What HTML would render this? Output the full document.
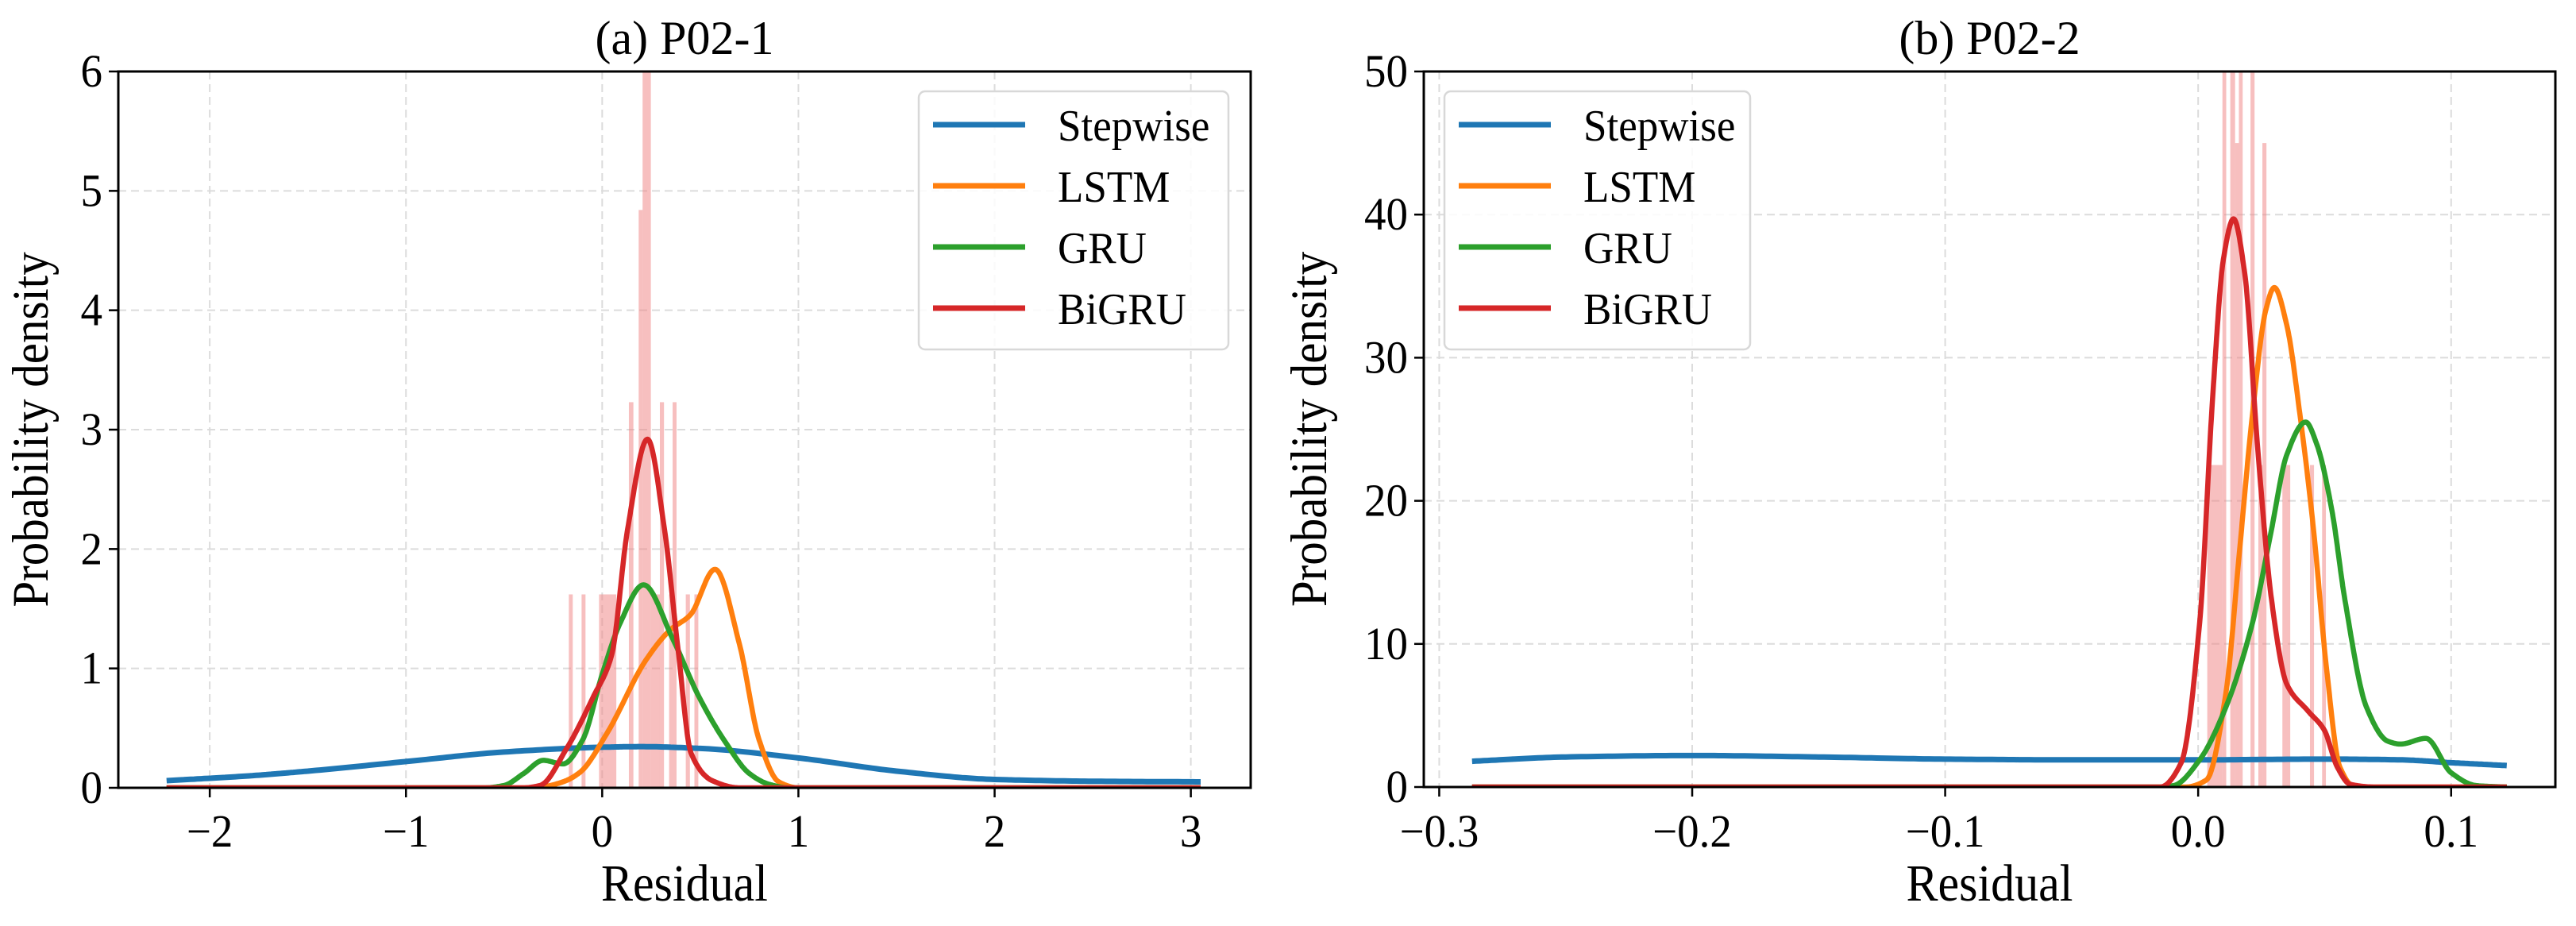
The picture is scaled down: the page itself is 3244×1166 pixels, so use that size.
<!DOCTYPE html>
<html><head><meta charset="utf-8"><style>
html,body{margin:0;padding:0;background:#fff;}
svg{display:block;font-family:"Liberation Serif",serif;}
</style></head><body>
<svg id="fig" width="3244" height="1166" viewBox="0 0 3244 1166" xmlns="http://www.w3.org/2000/svg"></svg>
<script>
// ---- Panel (a) P02-1 data ----
const aStepX=[-2.22,-1.8,-1.5,-1.0,-0.5,0,0.2,0.5,1.0,1.5,2.0,2.5,3.05];
const aStepY=[0.06,0.10,0.14,0.22,0.30,0.34,0.345,0.33,0.25,0.14,0.07,0.055,0.05];
const aLstmX=[-2.22,-0.4,-0.3,-0.2,-0.113,0.022,0.223,0.345,0.45,0.575,0.7,0.8,0.9,1.0,3.05];
const aLstmY=[0,0,0.01,0.05,0.13,0.45,1.07,1.32,1.45,1.83,1.2,0.4,0.05,0,0];
const aGruX=[-2.22,-0.6,-0.5,-0.4,-0.3,-0.2,-0.1,0,0.089,0.211,0.359,0.494,0.629,0.75,0.85,0.95,3.05];
const aGruY=[0,0,0.02,0.12,0.23,0.2,0.4,0.95,1.37,1.70,1.25,0.76,0.38,0.12,0.03,0,0];
const aBiX=[-2.22,-0.4,-0.316,-0.181,-0.046,0.048,0.129,0.231,0.318,0.386,0.453,0.561,0.7,3.05];
const aBiY=[0,0,0.02,0.33,0.76,1.11,2.16,2.92,2.16,1.17,0.29,0.06,0,0];
const aBinLo=[-0.170,-0.105,-0.016,0.136,0.186,0.206,0.248,0.294,0.341,0.359,0.426,0.470];
const aBinHi=[-0.150,-0.085,0.072,0.159,0.206,0.248,0.294,0.315,0.359,0.379,0.447,0.490];
const aBinH=[1.62,1.62,1.62,3.23,4.84,6.5,1.62,3.23,1.62,3.23,1.62,1.62];
const aXTicks=[-2,-1,0,1,2,3];
const aXTickLabels=["\u22122","\u22121","0","1","2","3"];
const aYTicks=[0,1,2,3,4,5,6];
const aYTickLabels=["0","1","2","3","4","5","6"];
// ---- Panel (b) P02-2 data ----
const bStepX=[-0.287,-0.25,-0.2,-0.15,-0.1,-0.05,0,0.05,0.08,0.1,0.122];
const bStepY=[1.8,2.1,2.2,2.1,1.95,1.9,1.9,1.95,1.9,1.7,1.5];
const bLstmX=[-0.287,-0.005,0.0033,0.011,0.0163,0.0215,0.0267,0.0301,0.035,0.0404,0.0456,0.0508,0.056,0.062,0.122];
const bLstmY=[0,0,0.5,6.6,16.4,26.1,33.3,34.9,32.3,25.8,18.0,8.2,1.4,0,0];
const bGruX=[-0.287,-0.015,-0.0097,0.0006,0.011,0.0215,0.029,0.035,0.0425,0.047,0.0529,0.058,0.0665,0.075,0.08,0.09,0.1,0.11,0.122];
const bGruY=[0,0,0.1,1.9,5.6,11.5,18.0,23.2,25.5,23.9,19.3,13.1,5.6,3.2,3.0,3.4,1.0,0.1,0];
const bBiX=[-0.287,-0.015,-0.0067,0.0006,0.0059,0.010,0.014,0.0184,0.0236,0.029,0.035,0.0435,0.0498,0.055,0.060,0.07,0.122];
const bBiY=[0,0,1.7,11.5,27.7,36.9,39.7,35.9,23.5,13.1,7.2,5.3,4.0,1.4,0.2,0,0];
const bBinLo=[0.0036,0.0096,0.0127,0.0146,0.0161,0.0207,0.0238,0.0254,0.0333,0.0442,0.0490];
const bBinHi=[0.0096,0.0111,0.0146,0.0161,0.0176,0.0223,0.0254,0.0270,0.0364,0.0458,0.0505];
const bBinH=[22.5,55,55,45,55,55,22.5,45,22.5,22.5,22.5];
const bXTicks=[-0.3,-0.2,-0.1,0.0,0.1];
const bXTickLabels=["\u22120.3","\u22120.2","\u22120.1","0.0","0.1"];
const bYTicks=[0,10,20,30,40,50];
const bYTickLabels=["0","10","20","30","40","50"];
const seriesNames=["Stepwise","LSTM","GRU","BiGRU"];
const colors=["#1f77b4","#ff7f0e","#2ca02c","#d62728"];

const NS="http://www.w3.org/2000/svg";
const svg=document.getElementById('fig');
function mk(tag,attrs,parent){const e=document.createElementNS(NS,tag);for(const k in attrs)e.setAttribute(k,attrs[k]);(parent||svg).appendChild(e);return e;}
function txt(parent,x,y,size,anchor,content,rot,sy){
 const tr='translate('+x+','+y+')'+(rot?' rotate(-90)':'')+' scale(1,'+(sy||1)+')';
 const t=mk('text',{x:0,y:0,'font-size':size,'text-anchor':anchor,transform:tr},parent);
 t.textContent=content;return t;}
function monotone(xs,ys){
 const n=xs.length,d=[],m=new Array(n);
 for(let i=0;i<n-1;i++)d.push((ys[i+1]-ys[i])/(xs[i+1]-xs[i]));
 m[0]=d[0];m[n-1]=d[n-2];
 for(let i=1;i<n-1;i++){ if(d[i-1]*d[i]<=0)m[i]=0; else { const h0=xs[i]-xs[i-1],h1=xs[i+1]-xs[i];
   m[i]=3*(h0+h1)/((2*h1+h0)/d[i-1]+(h1+2*h0)/d[i]); } }
 const out=[];
 for(let i=0;i<n-1;i++){const h=xs[i+1]-xs[i];const N=24;
  for(let k=0;k<N;k++){const t=k/N,t2=t*t,t3=t2*t;
   const y=(2*t3-3*t2+1)*ys[i]+(t3-2*t2+t)*h*m[i]+(-2*t3+3*t2)*ys[i+1]+(t3-t2)*h*m[i+1];
   out.push([xs[i]+t*h,y]);}}
 out.push([xs[n-1],ys[n-1]]);return out;}

function panel(cfg){
 const {id,L,R,T,B,x0,x1,y0,y1}=cfg;
 const sx=v=>L+(v-x0)/(x1-x0)*(R-L);
 const sy=v=>B-(v-y0)/(y1-y0)*(B-T);
 const g=mk('g',{});
 
 
 const clipId='clip-'+id;
 const cp=mk('clipPath',{id:clipId},g);mk('rect',{x:L,y:T,width:R-L,height:B-T},cp);
 const grid=mk('g',{stroke:'#dcdcdc','stroke-width':2,'stroke-dasharray':'10,6'},g);
 
 
 cfg.xt.forEach(v=>mk('line',{x1:sx(v),x2:sx(v),y1:T,y2:B},grid));
 cfg.yt.forEach(v=>mk('line',{x1:L,x2:R,y1:sy(v),y2:sy(v)},grid));
 const hg=mk('g',{'clip-path':'url(#'+clipId+')',fill:'#f08080','fill-opacity':0.5},g);
 
 
 for(let i=0;i<cfg.binLo.length;i++){
  const r=mk('rect',{x:sx(cfg.binLo[i]),y:sy(cfg.binH[i]),width:Math.max(1,sx(cfg.binHi[i])-sx(cfg.binLo[i])),height:B-sy(cfg.binH[i])},hg);
  
  
 }
 const cg=mk('g',{'clip-path':'url(#'+clipId+')',fill:'none','stroke-linejoin':'round','stroke-linecap':'butt'},g);
 cfg.series.forEach((s,i)=>{
  const pts=monotone(s[0],s[1]).map(p=>sx(p[0]).toFixed(1)+','+sy(p[1]).toFixed(1));
  const p=mk('path',{d:'M'+pts.join(' L'),stroke:colors[i],'stroke-width':i===0?7:6.5},cg);
  
  
 });
 const sp=mk('rect',{x:L,y:T,width:R-L,height:B-T,fill:'none',stroke:'#000','stroke-width':3},g);
 
 
 cfg.xt.forEach((v,i)=>{
  mk('line',{x1:sx(v),x2:sx(v),y1:B,y2:B+12,stroke:'#000','stroke-width':2.5},g);
  const t=txt(g,sx(v),1066,55,'middle',cfg.xl[i],false,1.05);
  
  
 });
 cfg.yt.forEach((v,i)=>{
  mk('line',{x1:L-12,x2:L,y1:sy(v),y2:sy(v),stroke:'#000','stroke-width':2.5},g);
  const t=txt(g,L-20,sy(v)+19,55,'end',cfg.yl[i],false,1.05);
  
  
 });
 const title=txt(g,(L+R)/2,68,60,'middle',cfg.title);
 
 
 const xlab=txt(g,(L+R)/2,1134,60,'middle','Residual',false,1.1);
 
 
 const ylab=txt(g,cfg.ylx,(T+B)/2,59,'middle','Probability density',true,1.1);
 
 
 const lg=mk('g',{},g);
 
 
 mk('rect',{x:cfg.legX,y:115,width:cfg.legW,height:325,rx:8,fill:'#fff','fill-opacity':0.85,stroke:'#d8d8d8','stroke-width':2.5},lg);
 seriesNames.forEach((n,i)=>{
  const y=157+i*77;
  const e=mk('g',{},lg);
  
  
  mk('line',{x1:cfg.legX+18,x2:cfg.legX+134,y1:y,y2:y,stroke:colors[i],'stroke-width':7},e);
  txt(e,cfg.legX+175,y+20,53,'start',n,false,1.06);
 });
}
panel({id:'p02-1',L:149,R:1575,T:90,B:992,x0:-2.466,x1:3.305,y0:0,y1:6,
 xt:aXTicks,xl:aXTickLabels,yt:aYTicks,yl:aYTickLabels,title:'(a) P02-1',ylx:60,legX:1157,legW:390,
 binLo:aBinLo,binHi:aBinHi,binH:aBinH,
 series:[[aStepX,aStepY],[aLstmX,aLstmY],[aGruX,aGruY],[aBiX,aBiY]]});
panel({id:'p02-2',L:1793,R:3218,T:90,B:991,x0:-0.3061,x1:0.1412,y0:0,y1:50,
 xt:bXTicks,xl:bXTickLabels,yt:bYTicks,yl:bYTickLabels,title:'(b) P02-2',ylx:1670,legX:1819,legW:385,
 binLo:bBinLo,binHi:bBinHi,binH:bBinH,
 series:[[bStepX,bStepY],[bLstmX,bLstmY],[bGruX,bGruY],[bBiX,bBiY]]});
</script>
</body></html>
